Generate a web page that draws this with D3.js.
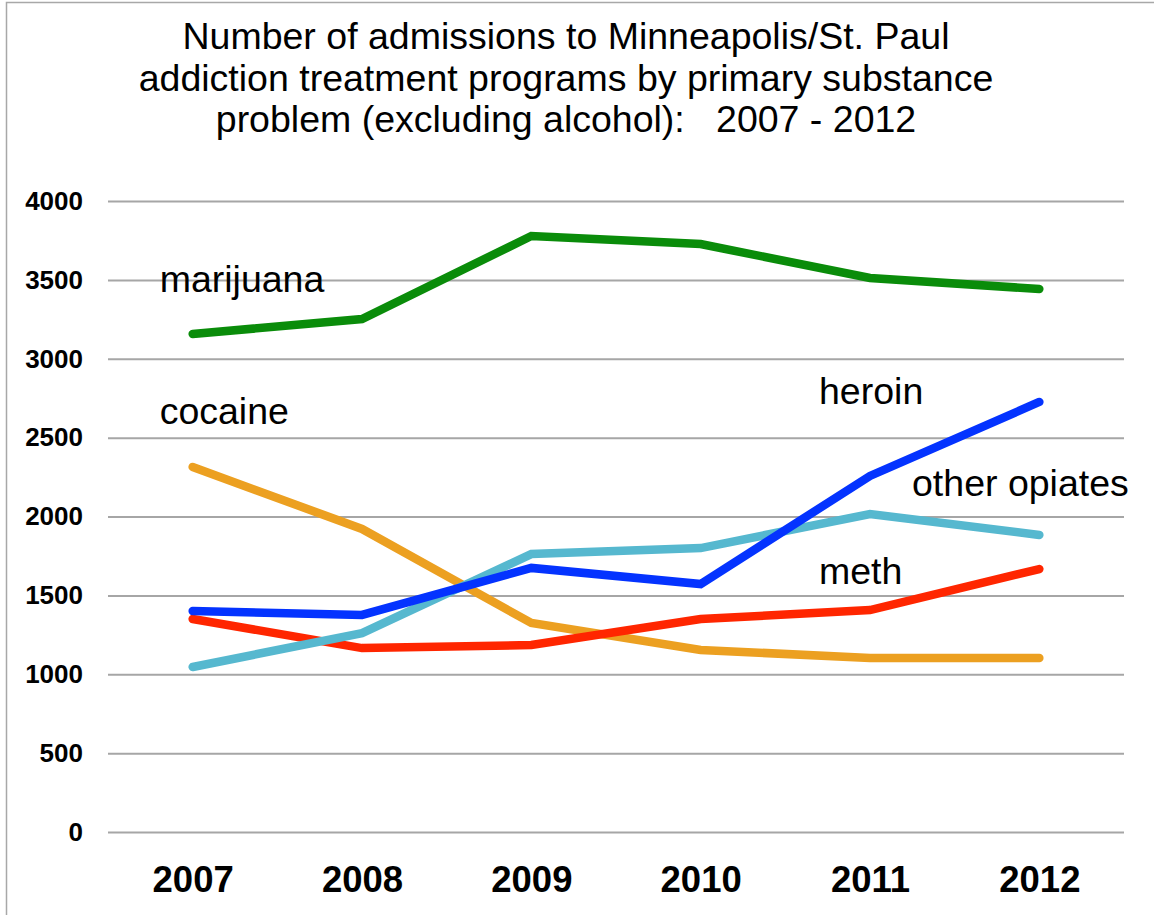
<!DOCTYPE html>
<html>
<head>
<meta charset="utf-8">
<script src="https://cdn.jsdelivr.net/npm/d3@7"></script>
<style>
  body { margin: 0; background: #fff; }
  svg { display: block; font-family: "Liberation Sans", Arial, sans-serif; }
</style>
</head>
<body>
<div id="chart"></div>
<script>
const years = ["2007", "2008", "2009", "2010", "2011", "2012"];
const yTicks = [0, 500, 1000, 1500, 2000, 2500, 3000, 3500, 4000];
const titleLines = [
    "Number of admissions to Minneapolis/St. Paul",
    "addiction treatment programs by primary substance",
    "problem (excluding alcohol):   2007 - 2012"
];

const marijuana = [3157, 3252, 3778, 3727, 3512, 3442];
const cocaine = [2314, 1921, 1325, 1154, 1103, 1103];
const meth = [1350, 1166, 1185, 1350, 1407, 1667];
const otherOpiates = [1046, 1261, 1762, 1800, 2016, 1883];
const heroin = [1401, 1376, 1674, 1572, 2257, 2726];

// draw order: later ones on top
const series = [
    {name: "marijuana", values: marijuana, color: "#0a8c0a"},
    {name: "cocaine", values: cocaine, color: "#eca021"},
    {name: "meth", values: meth, color: "#ff2600"},
    {name: "other opiates", values: otherOpiates, color: "#56b8cf"},
    {name: "heroin", values: heroin, color: "#0433ff"}
];

// label anchors: year, value at text middle, offset in px from that year
const labelNames = ["marijuana", "cocaine", "heroin", "other opiates", "meth"];
const labelYears = ["2007", "2007", "2011", "2011", "2011"];
const labelValues = [3505, 2669, 2796, 2212, 1654];
const labelDx = [-33, -33, -51, 42, -51];

var width = 1154, height = 915;
var margin = {top: 201, right: 30, bottom: 83, left: 108};

var svg = d3.select("#chart").append("svg")
    .attr("width", width)
    .attr("height", height);

// outer frame
svg.append("rect")
    .attr("x", 6.5).attr("y", 2.5)
    .attr("width", width + 10).attr("height", height + 10)
    .attr("fill", "none")
    .attr("stroke", "#a8a8a8")
    .attr("stroke-width", 1.5);

var x = d3.scalePoint().domain(years).range([margin.left, width - margin.right]).padding(0.5);
var y = d3.scaleLinear().domain([0, 4000]).range([height - margin.bottom, margin.top]);

// title
svg.append("g").selectAll("text")
    .data(titleLines)
    .enter().append("text")
    .attr("x", 566)
    .attr("y", (d, i) => 49 + i * 41.5)
    .attr("text-anchor", "middle")
    .style("font-size", "37.5px")
    .style("white-space", "pre")
    .attr("fill", "#000")
    .text(d => d);

// gridlines
var grid = d3.axisLeft(y).tickValues(yTicks).tickSize(-(width - margin.right - margin.left)).tickFormat("");
svg.append("g")
    .attr("class", "grid")
    .attr("transform", `translate(${margin.left},0)`)
    .call(grid)
    .call(g => g.select(".domain").remove())
    .call(g => g.selectAll("line").attr("stroke", "#a6a6a6").attr("stroke-width", 2));

// y axis labels
var yAxis = d3.axisLeft(y).tickValues(yTicks).tickSize(0).tickPadding(25).tickFormat(d3.format("d"));
svg.append("g")
    .attr("transform", `translate(${margin.left},0)`)
    .call(yAxis)
    .call(g => g.select(".domain").remove())
    .call(g => g.selectAll("text")
        .attr("fill", "#000")
        .style("font-size", "26px")
        .style("font-weight", "bold")
        .style("font-family", "'Liberation Sans', Arial, sans-serif"));

// x axis labels
var xAxis = d3.axisBottom(x).tickSize(0).tickPadding(0);
svg.append("g")
    .attr("transform", `translate(0,${height - margin.bottom})`)
    .call(xAxis)
    .call(g => g.select(".domain").remove())
    .call(g => g.selectAll("text")
        .attr("dy", null)
        .attr("y", 60)
        .attr("fill", "#000")
        .style("font-size", "36.5px")
        .style("font-weight", "bold")
        .style("font-family", "'Liberation Sans', Arial, sans-serif"));

// lines
var line = d3.line()
    .x((d, i) => x(years[i]))
    .y(d => y(d));

svg.append("g").selectAll("path")
    .data(series)
    .enter().append("path")
    .attr("d", d => line(d.values))
    .attr("fill", "none")
    .attr("stroke", d => d.color)
    .attr("stroke-width", 8.5)
    .attr("stroke-linecap", "round")
    .attr("stroke-linejoin", "miter");

// series labels
svg.append("g").selectAll("text")
    .data(labelNames)
    .enter().append("text")
    .attr("x", (d, i) => x(labelYears[i]) + labelDx[i])
    .attr("y", (d, i) => y(labelValues[i]))
    .attr("dy", "0.35em")
    .style("font-size", "37.5px")
    .attr("fill", "#000")
    .text(d => d);
</script>
</body>
</html>
